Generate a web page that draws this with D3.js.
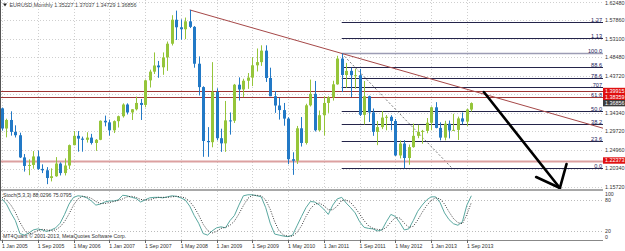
<!DOCTYPE html>
<html><head><meta charset="utf-8">
<script src="https://cdn.jsdelivr.net/npm/d3@7"></script>
<style>
html,body{margin:0;padding:0;background:#fff;}
svg{display:block;font-family:"Liberation Sans",Arial,sans-serif;}
</style></head><body><svg id="c" width="625" height="251"></svg>
<script>
// ---- data (EURUSD monthly, Jan 2005 .. Oct 2013) ----
const startMonth = new Date(2005, 0, 1);
const opens = [1.3554,1.3045,1.3260,1.2960,1.2875,1.2315,1.2100,1.2125,1.2340,1.2025,1.1990,1.1795,
1.1840,1.2160,1.1920,1.2110,1.2625,1.2860,1.2790,1.2760,1.2815,1.2680,1.2760,1.3240,
1.3200,1.3000,1.3230,1.3355,1.3650,1.3450,1.3530,1.3690,1.3640,1.4260,1.4480,1.4635,
1.4590,1.4840,1.5185,1.5790,1.5600,1.5550,1.5750,1.5610,1.4680,1.4090,1.2730,1.2700,
1.3970,1.2800,1.2670,1.3250,1.3240,1.4150,1.4030,1.4250,1.4330,1.4640,1.4720,1.5010,
1.4320,1.3860,1.3625,1.3510,1.3295,1.2270,1.2230,1.3050,1.2680,1.3630,1.3920,1.3000,
1.3380,1.3690,1.3830,1.4160,1.4810,1.4395,1.4500,1.4390,1.4390,1.3390,1.3860,1.3450,
1.2960,1.3080,1.3320,1.3340,1.3235,1.2365,1.2665,1.2300,1.2575,1.2860,1.2960,1.2985,
1.3190,1.3580,1.3060,1.2815,1.3165,1.2995,1.3010,1.3300,1.3220,1.35227];
const highs = [1.3574,1.3293,1.3479,1.3125,1.2939,1.2400,1.2266,1.2475,1.2490,1.2140,1.2070,1.2040,
1.2323,1.2190,1.2290,1.2640,1.2980,1.2980,1.2840,1.2950,1.2910,1.2780,1.3250,1.3370,
1.3270,1.3250,1.3370,1.3680,1.3680,1.3535,1.3850,1.3790,1.4280,1.4530,1.4965,1.4750,
1.4965,1.5240,1.5905,1.6020,1.5800,1.5845,1.6038,1.5630,1.4865,1.4110,1.3080,1.4720,
1.4060,1.3040,1.3740,1.3450,1.4170,1.4335,1.4300,1.4445,1.4845,1.5065,1.5145,1.5145,
1.4580,1.3990,1.3820,1.3690,1.3330,1.2445,1.3110,1.3335,1.3670,1.4280,1.4245,1.3500,
1.3860,1.3860,1.4250,1.4880,1.4940,1.4700,1.4580,1.4550,1.4550,1.4245,1.3875,1.3550,
1.3235,1.3485,1.3385,1.3380,1.3285,1.2745,1.2750,1.2640,1.3170,1.3140,1.3010,1.3310,
1.3600,1.3710,1.3200,1.3240,1.3245,1.3415,1.3345,1.3450,1.3545,1.37037];
const lows = [1.2990,1.2822,1.2865,1.2818,1.2300,1.1957,1.1866,1.2030,1.2000,1.1920,1.1640,1.1710,
1.1825,1.1860,1.1860,1.2020,1.2620,1.2460,1.2460,1.2690,1.2640,1.2480,1.2750,1.3100,
1.2865,1.2930,1.3070,1.3320,1.3400,1.3260,1.3500,1.3260,1.3580,1.4080,1.4420,1.4325,
1.4400,1.4500,1.5140,1.5280,1.5285,1.5300,1.5580,1.4580,1.3880,1.2330,1.2330,1.2570,
1.2745,1.2455,1.2455,1.2890,1.3185,1.3750,1.3835,1.4045,1.4115,1.4485,1.4625,1.4220,
1.3860,1.3440,1.3270,1.3115,1.2145,1.1875,1.2150,1.2590,1.2640,1.3600,1.2970,1.2970,
1.2870,1.3440,1.3750,1.4150,1.3965,1.4070,1.3840,1.4050,1.3360,1.3145,1.3210,1.2860,
1.2625,1.3030,1.3000,1.3000,1.2350,1.2290,1.2042,1.2130,1.2560,1.2800,1.2660,1.2925,
1.3000,1.3050,1.2745,1.2745,1.2795,1.2990,1.2755,1.3150,1.3105,1.34729];
const closes = [1.3045,1.3260,1.2960,1.2875,1.2315,1.2100,1.2125,1.2340,1.2025,1.1990,1.1795,1.1840,
1.2160,1.1920,1.2110,1.2625,1.2860,1.2790,1.2760,1.2815,1.2680,1.2760,1.3240,1.3200,
1.3000,1.3230,1.3355,1.3650,1.3450,1.3530,1.3690,1.3640,1.4260,1.4480,1.4635,1.4590,
1.4840,1.5185,1.5790,1.5600,1.5550,1.5750,1.5610,1.4680,1.4090,1.2730,1.2700,1.3970,
1.2800,1.2670,1.3250,1.3240,1.4150,1.4030,1.4250,1.4330,1.4640,1.4720,1.5010,1.4320,
1.3860,1.3625,1.3510,1.3295,1.2270,1.2230,1.3050,1.2680,1.3630,1.3920,1.3000,1.3380,
1.3690,1.3830,1.4160,1.4810,1.4395,1.4500,1.4390,1.4390,1.3390,1.3860,1.3450,1.2960,
1.3080,1.3320,1.3340,1.3235,1.2365,1.2665,1.2300,1.2575,1.2860,1.2960,1.2985,1.3190,
1.3580,1.3060,1.2815,1.3165,1.2995,1.3010,1.3300,1.3220,1.3525,1.36856];
const stochMain = [82,72,55,40,15,12,16,22,24,22,19,22,26,35,52,72,85,88,87,84,78,70,72,76,
78,78,80,89,88,85,83,76,80,84,85,85,84,86,88,87,84,80,68,50,35,15,12,20,
26,28,26,40,50,70,88,90,90,88,86,65,35,14,12,10,9,12,30,48,65,77,76,70,
62,52,70,82,85,74,65,55,38,27,25,24,20,22,38,52,48,36,22,24,40,58,70,80,
86,86,75,55,42,34,31,38,70,88.03];
const stochSignal = [85,80,70,56,37,22,14,16,21,23,22,21,22,28,38,53,70,82,87,86,83,77,73,73,
75,77,79,82,86,87,85,81,80,80,83,85,85,85,86,87,86,84,77,66,51,33,21,16,
19,25,27,31,39,53,69,83,89,89,88,80,62,38,20,12,10,10,17,30,48,63,72,74,
69,61,61,68,79,80,75,65,53,40,30,25,23,22,27,37,46,45,35,27,29,41,56,69,
79,84,82,72,57,44,36,34,52,75.08];
const priceTicks = [1.62480,1.57860,1.53100,1.48480,1.43720,1.34340,1.29720,1.24960,1.20340,1.15720];
const timeTickIdx = [0,8,16,24,32,40,48,56,64,72,80,88,96,104];
const timeTickLabels = ["1 Jan 2005","1 Sep 2005","1 May 2006","1 Jan 2007","1 Sep 2007","1 May 2008","1 Jan 2009",
  "1 Sep 2009","1 May 2010","1 Jan 2011","1 Sep 2011","1 May 2012","1 Jan 2013","1 Sep 2013"];
const hLinePrices = [1.39915, 1.38359, 1.22373];
const hLineKinds = ["dark","dark","light"];
const fibLevels = [0,23.6,38.2,50,61.8,70.7,78.6,88.6,100,113,127];
const fibLabels = ["0.0","23.6","38.2","50.0","61.8",".707","78.6","88.6","100.0","1.13","1.27"];
const fibAnchorIdx = [76, 100.7];
const fibAnchorPrice = [1.4940, 1.2042];
const trendIdx = [42, 76];
const trendPrice = [1.6038, 1.4940];
const arrowIdx = [107.8, 124.8];
const arrowPrice = [1.3966, 1.1542];
const arrowWingIdx = [119.5, 126.3];
const arrowWingPrice = [1.1820, 1.2150];
const stochLevels = [80, 20];
const stochTicks = [100, 80, 20, 0];
const title = "EURUSD,Monthly  1.35227 1.37037 1.34729 1.36856";
const stochTitle = "Stoch(5,3,3) 88.0296 75.0795";
const copyright = "MT4Quant \u00A9 2001-2013, MetaQuotes Software Corp.";

// ---- layout ----
const W = 625, H = 251;
const plotL = 1, plotR = 603, mainT = 0, mainB = 189, stT = 191, stB = 240;
const BULL = "#95c53a", BEAR = "#2279c6";

const svg = d3.select("#c");
const months = d3.timeMonth.range(startMonth, d3.timeMonth.offset(startMonth, opens.length));
const bars = months.map((d, i) => ({d, i, o: opens[i], h: highs[i], l: lows[i], c: closes[i]}));

const x = d3.scaleLinear().domain([0, 105]).range([2, 2 + 105 * 4.47]);
const y = d3.scaleLinear().domain([1.39915, 1.22373]).range([91, 160.5]);
const ys = d3.scaleLinear().domain([0, 100]).range([241.3, 189.6]);

const defs = svg.append("defs");
defs.append("clipPath").attr("id", "cm").append("rect").attr("x", plotL).attr("y", mainT).attr("width", plotR - plotL).attr("height", mainB - mainT);
defs.append("clipPath").attr("id", "cs").append("rect").attr("x", plotL).attr("y", stT).attr("width", plotR - plotL).attr("height", stB - stT);

const gMain = svg.append("g").attr("clip-path", "url(#cm)");
const gSt = svg.append("g").attr("clip-path", "url(#cs)");

// grid
const gridC = "#cfcfcf";
timeTickIdx.forEach(i => {
  const xx = Math.round(x(i)) + 0.5;
  gMain.append("line").attr("x1", xx).attr("x2", xx).attr("y1", mainT).attr("y2", mainB).attr("stroke", gridC).attr("stroke-dasharray", "1,2");
  gSt.append("line").attr("x1", xx).attr("x2", xx).attr("y1", stT).attr("y2", stB).attr("stroke", gridC).attr("stroke-dasharray", "1,2");
});
priceTicks.concat([1.39100]).forEach(p => {
  const yy = Math.round(y(p)) + 0.5;
  gMain.append("line").attr("x1", plotL).attr("x2", plotR).attr("y1", yy).attr("y2", yy).attr("stroke", gridC).attr("stroke-dasharray", "1,2");
});

// fib levels
const fibPrice = lv => fibAnchorPrice[1] + (fibAnchorPrice[0] - fibAnchorPrice[1]) * lv / 100;
fibLevels.forEach((lv, k) => {
  const yy = Math.round(y(fibPrice(lv))) + 0.5;
  const is100 = lv === 100;
  gMain.append("line").attr("x1", x(fibAnchorIdx[0])).attr("x2", plotR).attr("y1", yy).attr("y2", yy)
    .attr("stroke", is100 ? "#9c9cb4" : "#24244a").attr("stroke-width", is100 ? 1.6 : 1);
  gMain.append("text").attr("x", plotR - 1).attr("y", yy - 1).attr("text-anchor", "end")
    .attr("font-size", 5.6).attr("fill", "#1c1c5a").text(fibLabels[k]);
});
gMain.append("line").attr("x1", x(fibAnchorIdx[0])).attr("y1", y(fibAnchorPrice[0]))
  .attr("x2", x(fibAnchorIdx[1])).attr("y2", y(fibAnchorPrice[1]))
  .attr("stroke", "#555").attr("stroke-width", 0.8).attr("stroke-dasharray", "2,2");

// horizontal red lines
hLinePrices.forEach((p, k) => {
  const yy = Math.round(y(p)) + 0.5;
  gMain.append("line").attr("x1", plotL).attr("x2", plotR).attr("y1", yy).attr("y2", yy)
    .attr("stroke", hLineKinds[k] === "dark" ? "#9e3434" : "#dca0a0")
    .attr("stroke-width", hLineKinds[k] === "dark" ? 1 : 1.8);
});

// trend line (ray)
const slope = (y(trendPrice[1]) - y(trendPrice[0])) / (x(trendIdx[1]) - x(trendIdx[0]));
gMain.append("line").attr("x1", x(trendIdx[0])).attr("y1", y(trendPrice[0]))
  .attr("x2", plotR).attr("y2", y(trendPrice[0]) + slope * (plotR - x(trendIdx[0])))
  .attr("stroke", "#a64848").attr("stroke-width", 1);

// candles
const cg = gMain.append("g");
cg.selectAll("line.w").data(bars).join("line").attr("class", "w")
  .attr("x1", d => Math.round(x(d.i)) + 0.5).attr("x2", d => Math.round(x(d.i)) + 0.5)
  .attr("y1", d => y(d.h)).attr("y2", d => y(d.l))
  .attr("stroke", d => d.c >= d.o ? BULL : BEAR).attr("stroke-width", 1);
cg.selectAll("rect.b").data(bars).join("rect").attr("class", "b")
  .attr("x", d => Math.round(x(d.i)) - 1).attr("width", 3)
  .attr("y", d => y(Math.max(d.o, d.c))).attr("height", d => Math.max(1, Math.abs(y(d.o) - y(d.c))))
  .attr("fill", d => d.c >= d.o ? BULL : BEAR);

// arrow
const ag = gMain.append("g").attr("stroke", "#000").attr("stroke-width", 2.6).attr("stroke-linecap", "round").attr("fill", "none");
ag.append("line").attr("x1", x(arrowIdx[0])).attr("y1", y(arrowPrice[0])).attr("x2", x(arrowIdx[1])).attr("y2", y(arrowPrice[1]));
arrowWingIdx.forEach((wi, k) => {
  ag.append("line").attr("x1", x(arrowIdx[1])).attr("y1", y(arrowPrice[1])).attr("x2", x(wi)).attr("y2", y(arrowWingPrice[k]));
});

// title
svg.append("path").attr("d", "M3,3.5 L7,3.5 L5,6.5 Z").attr("fill", "#222");
svg.append("text").attr("x", 9.5).attr("y", 7).attr("font-size", 5.4).attr("fill", "#444").text(title);

// right price axis
const ax = svg.append("g").attr("font-size", 5.4).attr("fill", "#333");
priceTicks.forEach(p => {
  ax.append("text").attr("x", 605).attr("y", Math.max(y(p), 3.2)).attr("dy", "0.35em").text(p.toFixed(5));
});
// price labels for lines
function tag(p, bg) {
  const yy = y(p);
  svg.append("rect").attr("x", 603).attr("y", yy - 3.2).attr("width", 22).attr("height", 6.4).attr("fill", bg);
  svg.append("text").attr("x", 605).attr("y", yy).attr("dy", "0.35em").attr("font-size", 5.4).attr("fill", "#fff").text(p.toFixed(5));
}
tag(hLinePrices[0], "#e01010");
tag(hLinePrices[1], "#e01010");
tag(closes[closes.length - 1], "#3c3c3c");
tag(hLinePrices[2], "#e01010");

// separator / frames
svg.append("rect").attr("x", 0).attr("y", mainB).attr("width", plotR).attr("height", 2).attr("fill", "#a8a8a8");
svg.append("line").attr("x1", 0.5).attr("x2", 0.5).attr("y1", 0).attr("y2", stB).attr("stroke", "#555");
svg.append("line").attr("x1", 0).attr("x2", plotR).attr("y1", stB + 0.5).attr("y2", stB + 0.5).attr("stroke", "#888");

// stoch
stochLevels.forEach(v => {
  const yy = Math.round(ys(v)) + 0.5;
  gSt.append("line").attr("x1", plotL).attr("x2", plotR).attr("y1", yy).attr("y2", yy).attr("stroke", "#bbb").attr("stroke-dasharray", "1,2");
});
const lineK = d3.line().x((d, i) => x(i)).y(d => ys(d));
gSt.append("path").attr("d", lineK(stochMain)).attr("fill", "none").attr("stroke", "#5aa8a0").attr("stroke-width", 1);
gSt.append("path").attr("d", lineK(stochSignal)).attr("fill", "none").attr("stroke", "#222").attr("stroke-width", 0.9).attr("stroke-dasharray", "1,1.5");
svg.append("text").attr("x", 3).attr("y", 197).attr("font-size", 5.2).attr("fill", "#333").text(stochTitle);
svg.append("text").attr("x", 3).attr("y", 238).attr("font-size", 5.2).attr("fill", "#333").text(copyright);
stochTicks.forEach(v => {
  const yy = Math.min(Math.max(ys(v), 194), 237);
  svg.append("text").attr("x", 605).attr("y", yy).attr("dy", "0.35em").attr("font-size", 5.2).attr("fill", "#333").text(v);
});

// time axis
timeTickIdx.forEach((i, k) => {
  const xx = Math.round(x(i)) + 0.5;
  svg.append("line").attr("x1", xx).attr("x2", xx).attr("y1", stB).attr("y2", stB + 3).attr("stroke", "#666");
  svg.append("text").attr("x", x(i)).attr("y", 248).attr("font-size", 5.2).attr("fill", "#333").text(timeTickLabels[k]);
});
</script></body></html>
